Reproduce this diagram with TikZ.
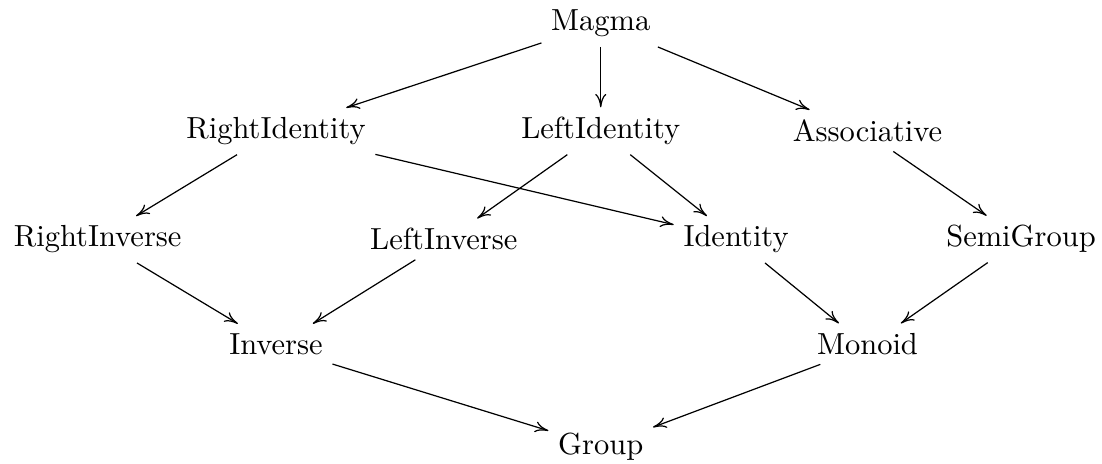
\documentclass[tikz,border=0pt]{standalone}
\usepackage{xcolor}
\usepackage{tikz}
\usetikzlibrary{cd,arrows.meta}
\tikzset{
  cls/.style={shape=asymmetrical rectangle, inner sep=3pt, text=black,
    commutative diagrams/center yshift=5.7pt},
  flat/.style={cls, commutative diagrams/center yshift=6.6pt},
  arr/.style={draw=black, line width=0.4pt, -{To[length=4.4pt,width=3.6pt]}},
}

\begin{document}
\begin{tikzpicture}
  \useasboundingbox (0,0) rectangle (12.698,-5.335);
  \node[cls]  (magma) at (6.922,-0.156) {Magma};
  \node[cls]  (rid)   at (3.180,-1.397) {RightIdentity};
  \node[cls]  (lid)   at (6.922,-1.397) {LeftIdentity};
  \node[flat] (assoc) at (9.996,-1.397) {Associative};
  \node[cls]  (rinv)  at (1.126,-2.645) {RightInverse};
  \node[flat] (linv)  at (5.114,-2.645) {LeftInverse};
  \node[cls]  (ident) at (8.481,-2.645) {Identity};
  \node[cls]  (semi)  at (11.765,-2.645) {SemiGroup};
  \node[flat] (inv)   at (3.180,-3.850) {Inverse};
  \node[flat] (mon)   at (9.996,-3.850) {Monoid};
  \node[cls]  (grp)   at (6.922,-5.036) {Group};
  \draw[arr] (magma) -- (rid);
  \draw[arr] (magma) -- (lid);
  \draw[arr] (magma) -- (assoc);
  \draw[arr] (rid) -- (rinv);
  \draw[arr] (rid) -- (ident);
  \draw[arr] (lid) -- (linv);
  \draw[arr] (lid) -- (ident);
  \draw[arr] (assoc) -- (semi);
  \draw[arr] (rinv) -- (inv);
  \draw[arr] (linv) -- (inv);
  \draw[arr] (ident) -- (mon);
  \draw[arr] (semi) -- (mon);
  \draw[arr] (inv) -- (grp);
  \draw[arr] (mon) -- (grp);
\end{tikzpicture}
\end{document}
